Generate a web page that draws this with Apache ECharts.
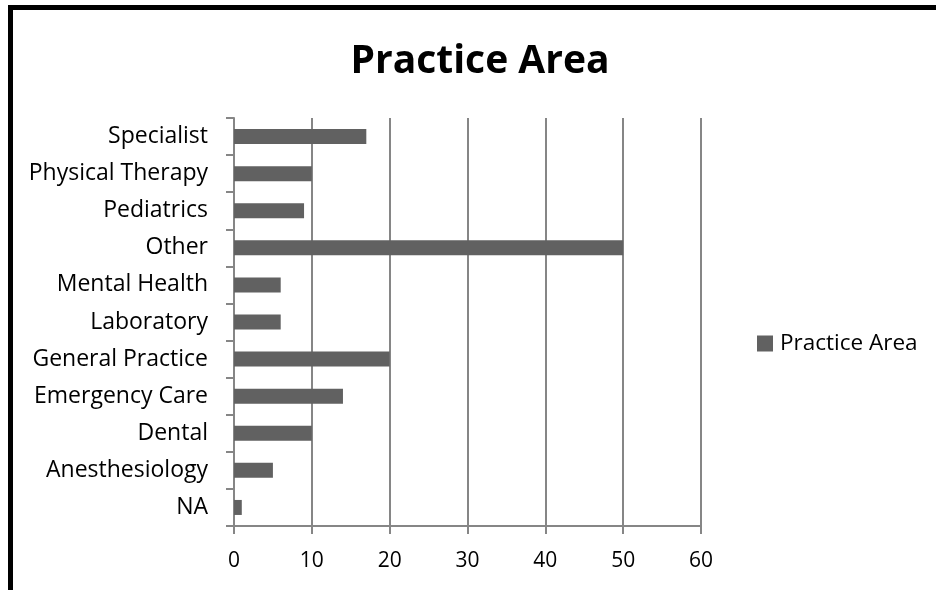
<!DOCTYPE html>
<html>
<head>
<meta charset="utf-8">
<script src="https://cdn.jsdelivr.net/npm/echarts@6/dist/echarts.min.js"></script>
<style>
html,body{margin:0;padding:0;background:#fff;}
#chart{width:936px;height:590px;}
</style>
</head>
<body>
<div id="chart"></div>
<script>
var categories = ["NA","Anesthesiology","Dental","Emergency Care","General Practice","Laboratory","Mental Health","Other","Pediatrics","Physical Therapy","Specialist"];
var values = [1,5,10,14,20,6,6,50,9,10,17];
var seriesName = "Practice Area";
var titleText = "Practice Area";
var xTicks = {min:0, max:60, interval:10};

var chart = echarts.init(document.getElementById('chart'), null, {renderer:'canvas'});
var font = "'Open Sans', 'Noto Sans', sans-serif";
chart.setOption({
  animation:false,
  backgroundColor:'#fff',
  title:{
    text:titleText, left:480, top:42, textAlign:'center', padding:0,
    textStyle:{fontFamily:font, fontSize:39, fontWeight:'bold', color:'#000'}
  },
  legend:{
    left:757, top:332, itemWidth:16, itemHeight:16, itemGap:6, padding:0,
    icon:'rect',
    textStyle:{fontFamily:font, fontSize:22.5, color:'#000', padding:[0,0,0,2]},
    data:[seriesName]
  },
  grid:{left:234, right:235, top:118, bottom:64, containLabel:false},
  xAxis:{
    type:'value', min:xTicks.min, max:xTicks.max, interval:xTicks.interval,
    axisLine:{show:true, lineStyle:{color:'#868686', width:2}},
    axisTick:{show:true, length:8, lineStyle:{color:'#868686', width:2}},
    axisLabel:{fontFamily:font, fontSize:21, color:'#000', margin:25},
    splitLine:{show:true, lineStyle:{color:'#868686', width:2}}
  },
  yAxis:{
    type:'category', data:categories,
    axisLine:{show:true, lineStyle:{color:'#868686', width:2}},
    axisTick:{show:true, length:8, lineStyle:{color:'#868686', width:2}},
    axisLabel:{fontFamily:font, fontSize:23, color:'#000', margin:26}
  },
  series:[{
    name:seriesName, type:'bar', data:values,
    barWidth:15,
    itemStyle:{color:'#616161'}
  }],
  graphic:[{
    type:'rect', silent:true, z:100,
    shape:{x:10.5, y:7.5, width:1000, height:700},
    style:{fill:null, stroke:'#000', lineWidth:5}
  }]
});
</script>
</body>
</html>
